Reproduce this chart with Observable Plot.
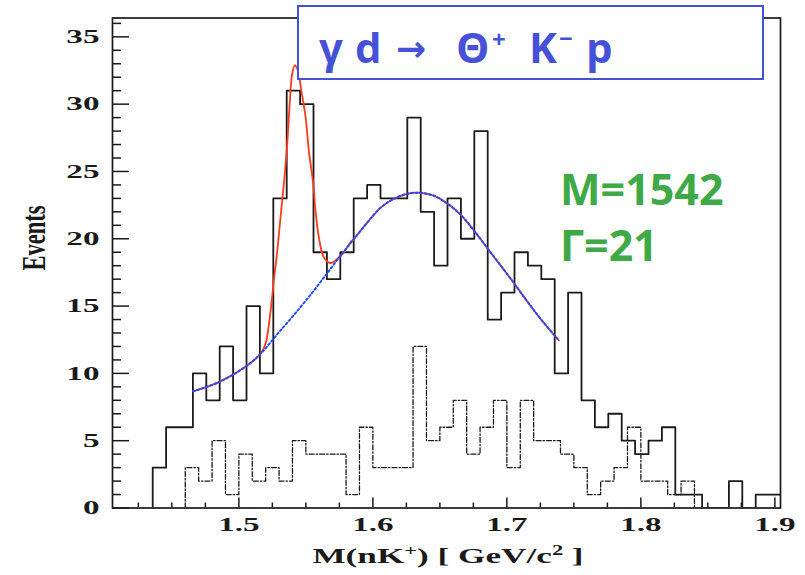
<!DOCTYPE html>
<html><head><meta charset="utf-8">
<script src="https://cdn.jsdelivr.net/npm/d3@7"></script>
<script src="https://cdn.jsdelivr.net/npm/@observablehq/plot@0.6"></script>
<style>body{margin:0;background:#fff} #chart{width:805px;height:575px}</style>
</head><body><div id="chart"></div>
<script>
// ---- data ----
const binWidth = 0.01;
const solidStart = 1.4357;
const solidCounts = [3,6,6,10,8,12,8,15,10,23,31,30,19,17,19,23,24,23,23,29,22,18,23,20,28,14,16,19,18,17,10,16,8,6,7,5,4,5,6,1,1,0,0,2,0,1,1];
const dashStart = 1.46;
const dashCounts = [3,2,5,1,4,2,3,2,5,4,4,4,1,6,3,3,3,12,5,6,8,4,6,8,3,8,5,5,4,3,1,2,3,6,2,2,1,2];
const bgX = [1.4658,1.4851,1.5063,1.5162,1.5311,1.546,1.556,1.566,1.5759,1.5858,1.5958,1.6057,1.6157,1.6257,1.6343,1.6455,1.6555,1.6654,1.6754,1.6854,1.6953,1.7052,1.7152,1.7251,1.7388];
const bgY = [8.67,9.35,10.59,11.46,13.19,14.92,16.16,17.45,18.75,19.98,21.2,22.3,22.97,23.34,23.42,23.2,22.62,21.8,20.62,19.3,18.02,16.72,15.35,14.06,12.44];
const peakX = [1.5162,1.5199,1.5237,1.5261,1.5287,1.5311,1.5336,1.5361,1.5381,1.5398,1.5418,1.5440,1.5466,1.5498,1.5522,1.5555,1.5572,1.5597,1.5634,1.5684,1.5734,1.5784,1.5834];
const peakY = [11.46,12.2,14.67,16.9,19.13,21.6,24.09,27.06,30.28,32.26,32.88,32.5,31.0,29.03,26.56,24.09,22.1,20.1,18.63,18.2,18.5,19.0,19.75];
const xTickLabels = [1.5,1.6,1.7,1.8,1.9];
const yTickLabels = [0,5,10,15,20,25,30,35];

// ---- build tables ----
function steps(start, counts){
  const pts=[{x:start,y:0}];
  counts.forEach((c,i)=>pts.push({x:start+i*binWidth,y:c}));
  const end=start+counts.length*binWidth;
  pts.push({x:end,y:counts[counts.length-1]});
  pts.push({x:end,y:0});
  return pts;
}
const solid = steps(solidStart, solidCounts);
const dashed = steps(dashStart, dashCounts);
const bg = bgX.map((x,i)=>({x, y:bgY[i]}));
const peak = peakX.map((x,i)=>({x, y:peakY[i]}));
const total = [...bg.filter(d=>d.x<peakX[0]), ...peak, ...bg.filter(d=>d.x>peakX[peakX.length-1])];

const xMinor = d3.range(1.425, 1.9001, 0.025).filter(v=>Math.abs(v*10-Math.round(v*10))>1e-6);
const yMinor = d3.range(1, 37, 1).filter(v=>v%5!==0);

const W=805,H=575,mL=112,mR=25,mT=17.5,mB=67.5;
const pw=W-mL-mR, ph=H-mT-mB;
const ink="#1a1a1a";

const plot = Plot.plot({
  width: W, height: H,
  marginLeft: mL, marginRight: mR, marginTop: mT, marginBottom: mB,
  x: {domain: [1.4057, 1.9042]},
  y: {domain: [0, 36.4]},
  style: {fontFamily: "'Liberation Serif', serif", fontWeight: "bold", fontSize: "19.5px", background: "white", color: ink},
  marks: [
    Plot.line(dashed, {x:"x", y:"y", curve:"step-after", stroke: ink, strokeWidth: 1.3, strokeDasharray: "5,2,1.5,2", clip: true}),
    Plot.line(solid, {x:"x", y:"y", curve:"step-after", stroke: ink, strokeWidth: 1.8, clip: true}),
    Plot.line(total, {x:"x", y:"y", curve:"catmull-rom", stroke:"#ff3a1c", strokeWidth:1.8}),
    Plot.line(bg, {x:"x", y:"y", curve:"catmull-rom", stroke:"#1f4cff", strokeWidth:2, strokeDasharray:"2,2.5"}),
    Plot.tickX(xTickLabels, {x:d=>d, insetTop: ph-10, stroke: ink, strokeWidth: 1.5}),
    Plot.tickX(xMinor, {x:d=>d, insetTop: ph-5, stroke: ink, strokeWidth: 1.5}),
    Plot.tickY(yTickLabels, {y:d=>d, insetRight: pw-17, stroke: ink, strokeWidth: 1.5}),
    Plot.tickY(yMinor, {y:d=>d, insetRight: pw-9, stroke: ink, strokeWidth: 1.5}),
    Plot.axisX(xTickLabels, {tickSize:0, tickPadding:9, tickFormat:d=>d.toFixed(1), label:null}),
    Plot.axisY(yTickLabels, {tickSize:0, tickPadding:13, label:null}),
    Plot.frame({stroke: ink, strokeWidth: 1.7})
  ]
});
document.getElementById("chart").appendChild(plot);

// stretch tick labels horizontally like the reference
plot.querySelectorAll('g[aria-label="x-axis tick label"] text, g[aria-label="y-axis tick label"] text').forEach(t=>{
  const tr=t.getAttribute('transform')||'';
  t.setAttribute('transform', tr+' scale(1.7,1)');
});

const svg = d3.select(plot);
// axis titles
const serif="'Liberation Serif', serif";
svg.append("text").attr("transform","translate(33,238) scale(1.5,1) rotate(-90)")
  .attr("text-anchor","middle").attr("dy","0.35em")
  .style("font-family",serif).style("font-weight","bold").style("font-size","22.5px").attr("fill",ink).text("Events");
const xt = svg.append("text").attr("transform","translate(448,563) scale(1.6,1)")
  .attr("text-anchor","middle").style("font-family",serif).style("font-weight","bold").style("font-size","22px").attr("fill",ink);
xt.append("tspan").text("M(nK");
xt.append("tspan").attr("dy",-8).style("font-size","14px").text("+");
xt.append("tspan").attr("dy",8).text(") [ GeV/c");
xt.append("tspan").attr("dy",-8).style("font-size","14px").text("2");
xt.append("tspan").attr("dy",8).text(" ]");

// title box
const blue="#4552d8", green="#3fa847";
svg.append("rect").attr("x",298).attr("y",6).attr("width",465).attr("height",73)
  .attr("fill","white").attr("stroke",blue).attr("stroke-width",2);
const sans="'Open Sans', sans-serif";
const tt = svg.append("text").attr("y",63).attr("text-anchor","start")
  .style("font-family",sans).style("font-weight","bold").style("font-size","42px").attr("fill",blue);
tt.append("tspan").attr("x",319).text("γ");
tt.append("tspan").attr("x",355).text("d ");
tt.append("tspan").attr("x",396).attr("y",61).style("font-family","'DejaVu Sans', sans-serif").style("font-size","36px").text("→ ");
tt.append("tspan").attr("x",456).attr("y",63).text("Θ");
tt.append("tspan").attr("x",492).attr("y",48).style("font-size","24px").text("+");
tt.append("tspan").attr("x",529).attr("y",63).text("K");
tt.append("tspan").attr("x",559).attr("y",47).style("font-size","24px").text("−");
tt.append("tspan").attr("x",586).attr("y",63).text("p");

svg.append("text").attr("x",560).attr("y",205).attr("text-anchor","start").style("font-family",sans).style("font-weight","bold").style("font-size","43px").attr("fill",green).text("M=1542");
svg.append("text").attr("x",560).attr("y",261).attr("text-anchor","start").style("font-family",sans).style("font-weight","bold").style("font-size","43px").attr("fill",green).text("Γ=21");
</script></body></html>
